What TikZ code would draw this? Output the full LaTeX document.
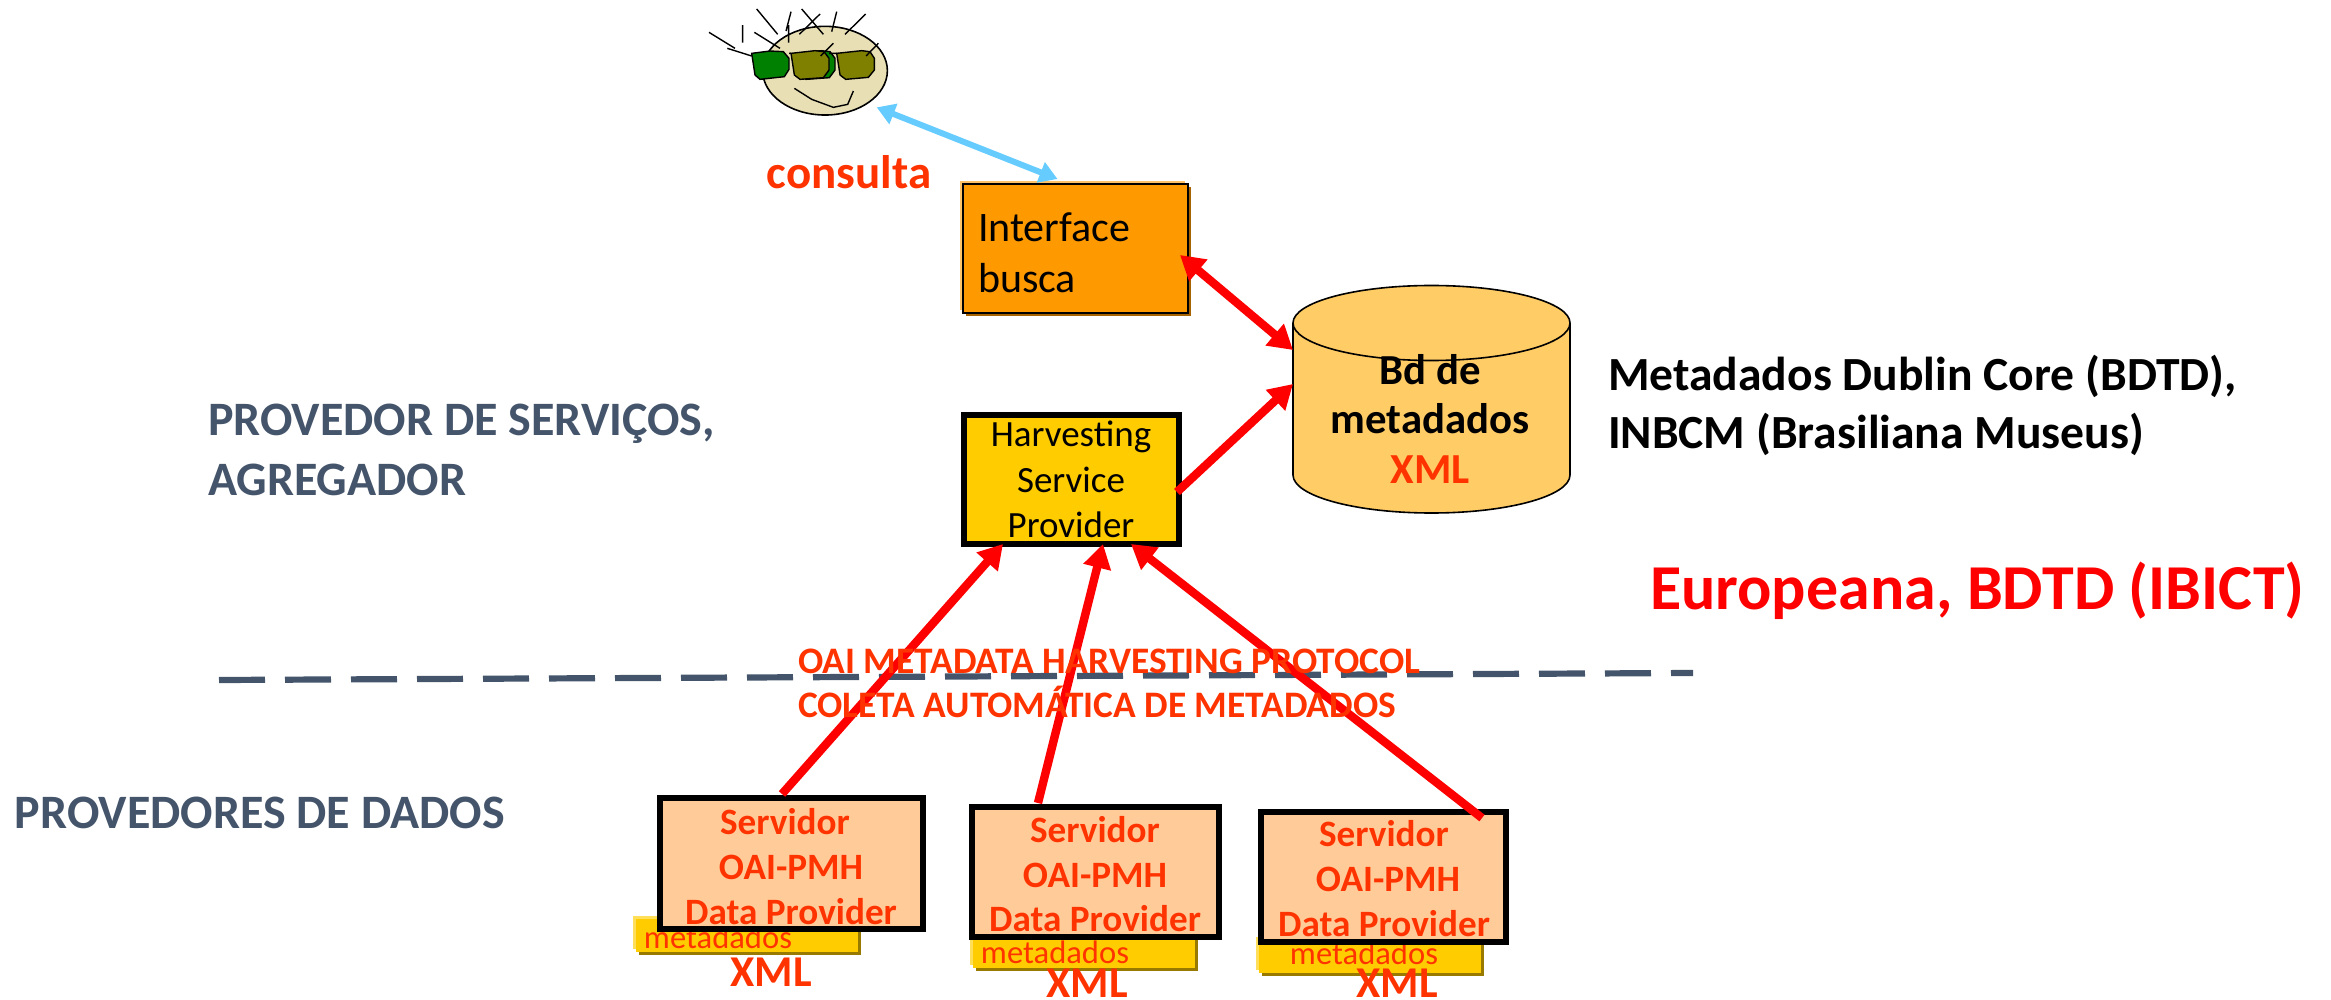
\documentclass[tikz,border=0pt]{standalone}
\usepackage{fontspec}
\setmainfont{Carlito}
\usetikzlibrary{arrows.meta,calc}
\definecolor{ored}{HTML}{FF3300}
\definecolor{slatec}{HTML}{44546A}
\definecolor{orangebox}{HTML}{FF9900}
\definecolor{yellowbox}{HTML}{FFCC00}
\definecolor{peachbox}{HTML}{FFCC99}
\definecolor{cylfill}{HTML}{FFCC66}
\definecolor{facec}{HTML}{E8DFB5}
\definecolor{bluearr}{HTML}{66CCFF}
\definecolor{glassc}{HTML}{808000}
\definecolor{glassg}{HTML}{008000}
\tikzset{
  x=0.5pt,y=-0.5pt,
  box/.style={rectangle,draw=black,outer sep=0pt,inner sep=0pt},
  heavy/.style={box,line width=3pt},
  shadowed/.style 2 args={preaction={draw=none,fill=#1,transform canvas={shift={(1.6pt,-1.6pt)}}},
     preaction={draw=none,fill=#2,transform canvas={shift={(-1.4pt,1.4pt)}}}},
  metabox/.style={box,draw=none,fill=yellowbox,shadowed={black!40!yellowbox}{yellowbox!65!white},minimum width=111pt,minimum height=16.5pt},
  redarrow/.style={draw=red,line width=4.2pt,-{Triangle[length=12pt,width=13.5pt]}},
  redboth/.style={draw=red,line width=4.2pt,{Triangle[length=12pt,width=13.5pt]}-{Triangle[length=12pt,width=13.5pt]}},
  bluearrow/.style={draw=bluearr,line width=3pt,{Triangle[length=9pt,width=10.5pt]}-{Triangle[length=9pt,width=10.5pt]}},
  lbl/.style={inner sep=0pt,outer sep=0pt,align=center},
  srvtxt/.style={lbl,text=ored,font=\fontsize{18.6}{18.6}\selectfont\bfseries},
  metatxt/.style={lbl,text=ored,font=\fontsize{16.3}{16.3}\selectfont},
  xmltxt/.style={lbl,text=ored,font=\fontsize{22}{22}\selectfont\bfseries},
  headtxt/.style={lbl,anchor=west,text=slatec,font=\fontsize{24}{24}\selectfont\bfseries},
  oaitxt/.style={lbl,anchor=west,text=ored,font=\fontsize{18.7}{18.7}\selectfont\bfseries},
  ifacetxt/.style={lbl,anchor=west,font=\fontsize{21}{21}\selectfont},
  harvtxt/.style={lbl,font=\fontsize{18.5}{18.5}\selectfont},
  cyltxt/.style={lbl,font=\fontsize{21.4}{21.4}\selectfont\bfseries},
  sidetxt/.style={lbl,anchor=west,font=\fontsize{23.8}{23.8}\selectfont\bfseries},
  hair/.style={draw=black,line width=0.7pt},
  lens/.style={draw=black,line width=0.7pt},
}
\begin{document}
\begin{tikzpicture}
\useasboundingbox (0,0) rectangle (2331,1000);
% dashed separator
\coordinate (dashL) at (219,680);
\coordinate (dashR) at (1693,673);
\draw[slatec,line width=3.1pt,dash pattern=on 23pt off 10pt] (dashL) -- (dashR);
% face
\begin{scope}[shift={(680,0)},x=0.1667pt,y=-0.1667pt]
  \draw[fill=facec,line width=0.8pt] (435,212) ellipse [x radius=187,y radius=133];
  \draw[hair] (87,97)--(165,145) (142,145)--(215,168) (188,75)--(188,128) (223,97)--(300,145)
    (230,27)--(293,103) (333,35)--(318,93) (326,75)--(326,128) (365,27)--(430,103)
    (420,42)--(358,103) (470,35)--(455,95) (557,42)--(495,103);
  \draw[lens,fill=glassg] (351,160)--(423,152)--(450,155)--(465,175)--(465,210)--(448,233)--(378,238)--(361,225)--cycle;
  \draw[lens,fill=glassg] (215,160)--(270,153)--(310,155)--(327,175)--(327,208)--(313,230)--(240,238)--(225,225)--cycle;
  \draw[lens,fill=glassc] (333,160)--(405,152)--(432,155)--(447,175)--(447,210)--(430,233)--(360,238)--(343,225)--cycle;
  \draw[lens,fill=glassc] (470,160)--(545,152)--(570,155)--(583,175)--(583,210)--(565,232)--(497,238)--(480,225)--cycle;
  \draw[hair] (327,160)--(333,160) (447,160)--(470,160) (460,130)--(422,168) (595,130)--(558,168);
  \draw[hair] (343,265)--(395,298)--(460,322)--(503,313)--(520,273);
  \coordinate (facepoint) at (590,322);
\end{scope}
% yellow metadata boxes
\node[metabox] (metaA) at (747,935.5) {};
\node[metabox] (metaB) at (1083.5,951.5) {};
\node[metabox] (metaC) at (1370,956.5) {};
\node[metatxt] (mtxtA) at (718,937) {metadados};
\node[metatxt] (mtxtB) at (1055,952) {metadados};
\node[metatxt] (mtxtC) at (1364,953) {metadados};
% boxes
\node[box,line width=0.8pt,fill=orangebox,shadowed={black!35!orangebox}{orangebox!60!white},minimum width=112.5pt,minimum height=64.5pt] (iface) at (1075.5,248.5) {};
\node[heavy,fill=yellowbox,minimum width=107.5pt,minimum height=64.5pt] (harv) at (1071.5,479.5) {};
\node[heavy,fill=peachbox,minimum width=131.5pt,minimum height=65.5pt] (srvA) at (791.5,863.5) {};
\node[heavy,fill=peachbox,minimum width=123.5pt,minimum height=65pt] (srvB) at (1095.5,872) {};
\node[heavy,fill=peachbox,minimum width=122.5pt,minimum height=65pt] (srvC) at (1383.5,877) {};
% cylinder
\node[rectangle,draw=none,inner sep=0pt,outer sep=0pt,minimum width=138.5pt,minimum height=112pt] (cyl) at (1431.5,398) {};
\draw[fill=cylfill,line width=0.8pt] (1431.5,475) ellipse [x radius=138.5,y radius=38];
\fill[cylfill] (1293,323) rectangle (1570,475);
\draw[line width=0.8pt] (1293,323) -- (1293,475) (1570,323) -- (1570,475);
\draw[fill=cylfill,line width=0.8pt] (1431.5,323) ellipse [x radius=138.5,y radius=37.5];
% box text
\node[ifacetxt] (ifaceA) at (978,227) {Interface};
\node[ifacetxt] (ifaceB) at (978,278) {busca};
\node[harvtxt] (harvA) at (1071,437) {Harvesting};
\node[harvtxt] (harvB) at (1071,480) {Service};
\node[harvtxt] (harvC) at (1071,525) {Provider};
\node[cyltxt] (cylA) at (1430,370) {Bd de};
\node[cyltxt] (cylB) at (1430,419) {metadados};
\node[cyltxt,text=ored] (cylC) at (1430,470) {XML};
% server text
\node[srvtxt] at (785,822) {Servidor};
\node[srvtxt] at (791,867) {OAI-PMH};
\node[srvtxt] at (791,912) {Data Provider};
\node[srvtxt] at (1095,830) {Servidor};
\node[srvtxt] at (1095,875) {OAI-PMH};
\node[srvtxt] at (1095,919) {Data Provider};
\node[srvtxt] at (1384,834) {Servidor};
\node[srvtxt] at (1388,879) {OAI-PMH};
\node[srvtxt] at (1384,924) {Data Provider};
\node[xmltxt] at (771,972) {XML};
\node[xmltxt] at (1087,983) {XML};
\node[xmltxt] at (1397,983) {XML};
% arrows
\draw[bluearrow] (facepoint) -- ([xshift=-9pt,yshift=2.5pt]iface.north);
\draw[redboth] ([xshift=-4pt,yshift=29pt]iface.south east) -- ([yshift=24pt]cyl.west);
\draw[redarrow] ([xshift=-1pt,yshift=26pt]harv.south east) -- ([yshift=7pt]cyl.west);
\draw[redarrow] ([xshift=61pt,yshift=2pt]srvA.north west) -- ([xshift=19.5pt]harv.south west);
\draw[redarrow] ([xshift=33pt,yshift=2pt]srvB.north west) -- ([xshift=69.5pt]harv.south west);
\draw[redarrow] ([xshift=-12pt,yshift=-3pt]srvC.north east) -- ([xshift=-24pt]harv.south east);
% labels
\node[lbl,text=ored,font=\fontsize{23.5}{23.5}\selectfont\bfseries] (consulta) at (849,172) {consulta};
\node[sidetxt] (mdA) at (1608,376) {Metadados Dublin Core (BDTD),};
\node[sidetxt] (mdB) at (1608,434) {INBCM (Brasiliana Museus)};
\node[lbl,anchor=west,text=red,font=\fontsize{32}{32}\selectfont\bfseries] (euro) at (1650,591) {Europeana, BDTD (IBICT)};
\node[headtxt] (pA) at (208,424) {PROVEDOR DE SERVIÇOS,};
\node[headtxt] (pB) at (208,480) {AGREGADOR};
\node[headtxt] (pC) at (15,813) {PROVEDORES DE DADOS};
\node[oaitxt] (oaiA) at (798,661) {OAI METADATA HARVESTING PROTOCOL};
\node[oaitxt] (oaiB) at (798,702) {COLETA AUTOMÁTICA DE METADADOS};
\end{tikzpicture}
\end{document}
